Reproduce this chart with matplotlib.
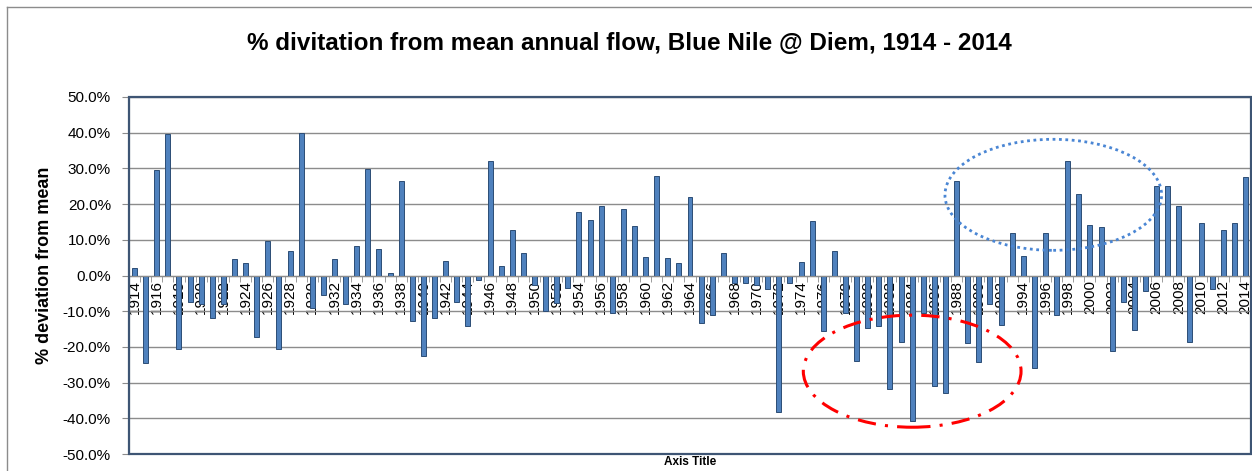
"""% deviation from mean annual flow, Blue Nile @ Diem, 1914-2014 (Excel-style bar chart)."""

import matplotlib
matplotlib.use("Agg")
import matplotlib.pyplot as plt
from matplotlib.lines import Line2D
from matplotlib.patches import Ellipse, Rectangle
from matplotlib.ticker import FixedLocator, FuncFormatter

years = list(range(1914, 2015))

# % deviation from mean
deviation = [
    2.2, -24.4, 29.5, 39.6, -20.7, -7.5, -8.0, -11.9, -8.0, 4.5,    # 1914-1923
    3.6, -17.3, 9.8, -20.5, 7.0, 39.9, -9.0, -5.4, 4.5, -7.9,       # 1924-1933
    8.3, 29.8, 7.5, 0.8, 26.6, -12.8, -22.5, -11.8, 4.2, -7.5,      # 1934-1943
    -14.1, -1.3, 32.1, 2.7, 12.8, 6.4, -2.6, -9.9, -7.8, -3.6,      # 1944-1953
    17.8, 15.6, 19.4, -10.4, 18.6, 14.0, 5.2, 28.0, 5.0, 3.5,       # 1954-1963
    22.1, -13.3, -11.0, 6.4, -2.1, -2.0, -2.7, -3.9, -38.2, -2.1,   # 1964-1973
    3.9, 15.4, -15.6, 7.0, -10.5, -24.0, -14.7, -14.1, -31.9, -18.7,  # 1974-1983
    -40.7, -10.4, -30.9, -33.0, 26.6, -19.0, -24.2, -8.1, -13.9, 12.0,  # 1984-1993
    5.5, -25.9, 12.0, -11.1, 32.1, 22.9, 14.1, 13.7, -21.1, -7.4,   # 1994-2003
    -15.4, -4.3, 25.1, 25.1, 19.6, -18.5, 14.8, -3.8, 12.8, 14.8,   # 2004-2013
    27.5,                                                            # 2014
]

y_ticks = [-50, -40, -30, -20, -10, 0, 10, 20, 30, 40, 50]
label_years = years[::2]

# highlighted periods: (centre year, centre %, width in years, height in %)
dry_spell = (1984.0, -26.8, 19.6, 31.4)
wet_spell = (1996.7, 22.6, 19.5, 31.1)

FONT = ["Liberation Sans", "DejaVu Sans"]

fig = plt.figure(figsize=(12.52, 4.71), dpi=100)
ax = fig.add_axes([129 / 1252, 17 / 471, 1122 / 1252, 357 / 471])

ax.bar(years, deviation, width=0.45, color="#4F81BD", edgecolor="#2C4D75",
       linewidth=0.7, zorder=3)

ax.set_xlim(years[0] - 0.5, years[-1] + 0.5)
ax.set_ylim(-50, 50)
ax.yaxis.set_major_locator(FixedLocator(y_ticks))
ax.yaxis.set_major_formatter(FuncFormatter(lambda v, _: f"{v:.1f}%"))
ax.grid(axis="y", color="#8c8c8c", linewidth=1.0, zorder=0)
ax.tick_params(axis="y", direction="out", length=5, color="#8c8c8c",
               labelsize=11, pad=8)
for lab in ax.get_yticklabels():
    lab.set_family(FONT)

# category axis sits on the zero line, year labels read bottom-to-top
ax.spines["bottom"].set_position(("data", 0))
ax.spines["bottom"].set_color("#8c8c8c")
ax.spines["bottom"].set_zorder(4)
ax.set_xticks(label_years)
ax.set_xticklabels([str(y) for y in label_years], rotation=90, fontsize=11,
                   family=FONT)
ax.set_xticks([y + 0.5 for y in years[:-1]], minor=True)
ax.tick_params(axis="x", which="major", length=0, pad=3)
ax.tick_params(axis="x", which="minor", direction="out", length=4,
               color="#8c8c8c")
for lab in ax.get_xticklabels():
    lab.set_zorder(5)

ax.spines["left"].set_color("#8c8c8c")
for side in ("top", "right"):
    ax.spines[side].set_visible(False)
ax.add_patch(Rectangle((0, 0), 1, 1, transform=ax.transAxes, fill=False,
                       edgecolor="#3e5574", linewidth=1.6, zorder=6,
                       clip_on=False))

cx, cy, w, h = dry_spell
ax.add_patch(Ellipse((cx, cy), w, h, fill=False, edgecolor="#ff0000",
                     linewidth=2.2, linestyle=(0, (6, 3, 1, 3)), zorder=7))
cx, cy, w, h = wet_spell
ax.add_patch(Ellipse((cx, cy), w, h, fill=False, edgecolor="#4a86d4",
                     linewidth=2.0, linestyle=(0, (1, 1.3)), zorder=7))

fig.text(45 / 1252, 1 - 265 / 471, "% deviation from mean", rotation=90,
         ha="center", va="center", fontsize=13, fontweight="bold",
         family=FONT)
fig.text(690 / 1252, 1 - 462 / 471, "Axis Title", ha="center", va="center",
         fontsize=8.5, fontweight="bold", family=FONT)
fig.text(629 / 1252, 1 - 44 / 471,
         "% divitation from mean annual flow, Blue Nile @ Diem, 1914 - 2014",
         ha="center", va="center", fontsize=17.5, fontweight="bold",
         family=FONT)

# chart-area frame (cropped at right and bottom in the original)
fig.add_artist(Line2D([7 / 1252, 7 / 1252], [0, 1 - 7 / 471],
                      transform=fig.transFigure, color="#8c8c8c", linewidth=1))
fig.add_artist(Line2D([7 / 1252, 1], [1 - 7 / 471, 1 - 7 / 471],
                      transform=fig.transFigure, color="#8c8c8c", linewidth=1))

fig.savefig("out.png", dpi=100)
